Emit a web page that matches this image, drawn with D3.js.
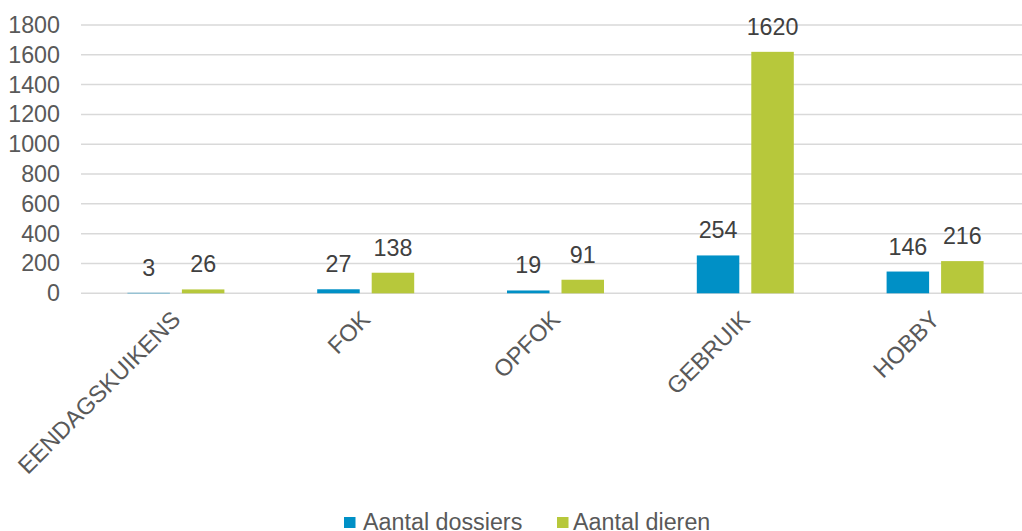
<!DOCTYPE html>
<html><head><meta charset="utf-8">
<script src="https://cdn.jsdelivr.net/npm/d3@7"></script>
<style>body{margin:0;background:#fff;} svg{display:block;font-family:"Liberation Sans",Arial,sans-serif;}</style>
</head><body>
<svg id="c" width="1022" height="531"></svg>
<script>
const categories = ["EENDAGSKUIKENS","FOK","OPFOK","GEBRUIK","HOBBY"];
const seriesNames = ["Aantal dossiers","Aantal dieren"];
const dossiers = [3,27,19,254,146];
const dieren = [26,138,91,1620,216];
const yTicks = [0,200,400,600,800,1000,1200,1400,1600,1800];
const colors = ["#0090c6","#b7c83b"];

const values = [dossiers, dieren];
const svg = d3.select("#c");
const x0 = d3.scaleBand().domain(categories).range([81,1030]).padding(0);
const y = d3.scaleLinear().domain([0,1800]).range([293.3,25]);
const x1 = d3.scaleBand().domain(seriesNames).range([-48.5,48.5]).paddingInner(0.22);

// gridlines
svg.append("g").selectAll("line").data(yTicks).join("line")
  .attr("x1",81).attr("x2",1030)
  .attr("y1",d=>y(d)).attr("y2",d=>y(d))
  .attr("stroke","#d9d9d9").attr("stroke-width",1.5);

// y axis labels
const yAxis = d3.axisLeft(y).tickValues(yTicks).tickSize(0).tickPadding(0).tickFormat(d3.format("d"));
const ya = svg.append("g").attr("transform","translate(60,0)").call(yAxis);
ya.select(".domain").remove();
ya.selectAll("text").attr("font-size",23.3).attr("fill","#595959").attr("font-family","Liberation Sans, Arial, sans-serif");

// bars
const groups = svg.append("g").selectAll("g").data(categories).join("g")
  .attr("transform",d=>`translate(${x0(d)+x0.bandwidth()/2},0)`);
seriesNames.forEach((s,si)=>{
  groups.append("rect")
    .attr("x",x1(s)).attr("width",x1.bandwidth())
    .attr("y",(d,i)=>y(values[si][i]))
    .attr("height",(d,i)=>y(0)-y(values[si][i]))
    .attr("fill",colors[si]);
  groups.append("text")
    .attr("x",x1(s)+x1.bandwidth()/2)
    .attr("y",(d,i)=>y(values[si][i])-17)
    .attr("text-anchor","middle").attr("font-size",23.3).attr("fill","#404040")
    .text((d,i)=>values[si][i]);
});

// category labels
svg.append("g").selectAll("text").data(categories).join("text")
  .attr("transform",d=>`translate(${x0(d)+x0.bandwidth()/2+6},321) rotate(-45)`)
  .attr("text-anchor","end").attr("font-size",23.5).attr("fill","#595959")
  .text(d=>d);

// legend
const leg = [{x:344,tx:363},{x:557,tx:573}];
seriesNames.forEach((s,i)=>{
  svg.append("rect").attr("x",leg[i].x).attr("y",517).attr("width",11.5).attr("height",11).attr("fill",colors[i]);
  svg.append("text").attr("x",leg[i].tx).attr("y",529.5).attr("font-size",23.3).attr("fill","#595959").text(s);
});
</script>
</body></html>
